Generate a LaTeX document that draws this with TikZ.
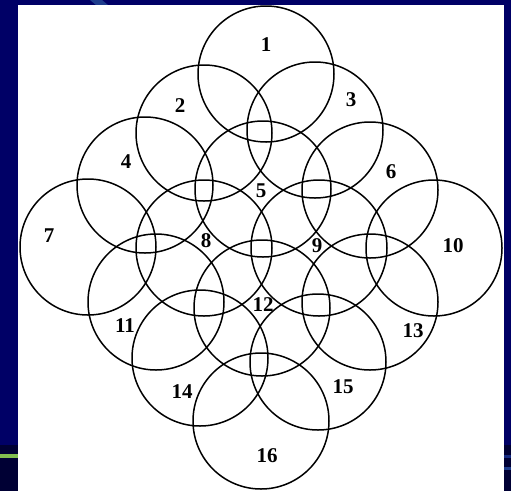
\documentclass[tikz,border=0pt]{standalone}
\usepackage{fontspec}
\setmainfont{Liberation Serif}
\definecolor{navy}{RGB}{0,0,102}
\definecolor{darknavy}{RGB}{0,0,52}
\definecolor{stripeblue}{RGB}{30,60,140}
\definecolor{greenbar}{RGB}{130,190,80}
\tikzset{
  ring/.style={circle, draw=black, line width=1.5pt, minimum size=136pt, inner sep=0pt},
  num/.style={font=\fontsize{21}{21}\selectfont\bfseries, inner sep=0pt}
}
\begin{document}
\begin{tikzpicture}[x=1pt,y=-1pt]
\useasboundingbox (0,0) rectangle (511,491);
% background
\fill[navy] (0,0) rectangle (511,491);
\fill[darknavy] (0,445) rectangle (511,491);
\fill[greenbar] (0,454) rectangle (18,458);
\fill[stripeblue] (90,0) -- (102,0) -- (108,5) -- (96,5) -- cycle;
\fill[stripeblue!70!navy] (504,455) rectangle (511,458);
\fill[stripeblue] (504,467) rectangle (511,470);
\fill[white] (17.7,5) rectangle (504,491);
% circles
\node[ring] (c1)  at (266,74)  {};
\node[ring] (c2)  at (204,133) {};
\node[ring] (c3)  at (315,130) {};
\node[ring] (c4)  at (145,185) {};
\node[ring] (c5)  at (263,189) {};
\node[ring] (c6)  at (370,190) {};
\node[ring] (c7)  at (88,247)  {};
\node[ring] (c8)  at (204,248) {};
\node[ring] (c9)  at (319,248) {};
\node[ring] (c10) at (434,248) {};
\node[ring] (c11) at (156,302) {};
\node[ring] (c12) at (262,308) {};
\node[ring] (c13) at (370,302) {};
\node[ring] (c14) at (200,358) {};
\node[ring] (c15) at (318,362) {};
\node[ring] (c16) at (261,421) {};
% labels
\node[num] (l1)  at (266,45)  {1};
\node[num] (l2)  at (180,106) {2};
\node[num] (l3)  at (351,100) {3};
\node[num] (l4)  at (126,162) {4};
\node[num] (l5)  at (261,191) {5};
\node[num] (l6)  at (391,172) {6};
\node[num] (l7)  at (49,236)  {7};
\node[num] (l8)  at (206,241) {8};
\node[num] (l9)  at (317,246) {9};
\node[num] (l10) at (453,246) {10};
\node[num] (l11) at (125,326) {11};
\node[num] (l12) at (263,305) {12};
\node[num] (l13) at (413,331) {13};
\node[num] (l14) at (182,392) {14};
\node[num] (l15) at (343,387) {15};
\node[num] (l16) at (267,456) {16};
\end{tikzpicture}
\end{document}
